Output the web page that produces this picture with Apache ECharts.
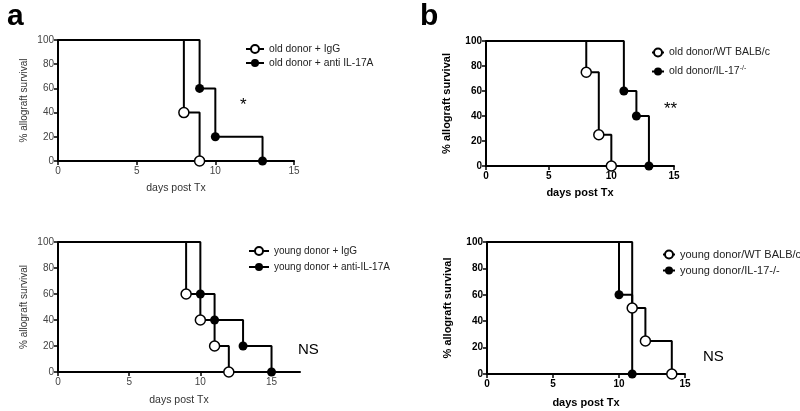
<!DOCTYPE html>
<html lang="en">
<head>
    <meta charset="UTF-8">
    <title>allograft survival</title>
    <script src="https://cdn.jsdelivr.net/npm/echarts@6/dist/echarts.min.js"></script>
    <style>
        body { margin: 0; background: #fff; }
        #main { width: 800px; height: 411px; }
    </style>
</head>
<body>
<div id="main"></div>

<script>
    // survival data: [day, % surviving], first point is the start of each curve
    var aOldIgG = [[0, 100], [8, 40], [9, 0]];
    var aOldAnti = [[0, 100], [9, 60], [10, 20], [13, 0]];
    var aYoungIgG = [[0, 100], [9, 60], [10, 40], [11, 20], [12, 0]];
    var aYoungAnti = [[0, 100], [10, 60], [11, 40], [13, 20], [15, 0]];
    var bOldWT = [[0, 100], [8, 75], [9, 25], [10, 0]];
    var bOldKO = [[0, 100], [11, 60], [12, 40], [13, 0]];
    var bYoungWT = [[0, 100], [11, 50], [12, 25], [14, 0]];
    var bYoungKO = [[0, 100], [10, 60], [11, 0]];

    var xTicks = [0, 5, 10, 15];
    var yTicks = [0, 20, 40, 60, 80, 100];

    var names = {
        aOldIgG: 'old donor + IgG',
        aOldAnti: 'old donor + anti IL-17A',
        aYoungIgG: 'young donor + IgG',
        aYoungAnti: 'young donor + anti-IL-17A',
        bOldWT: 'old donor/WT BALB/c',
        bOldKO: 'old donor/IL-17',
        bYoungWT: 'young donor/WT BALB/c',
        bYoungKO: 'young donor/IL-17-/-'
    };

    var myChart = echarts.init(document.getElementById('main'));

    // grids: a-top, a-bottom, b-top, b-bottom
    var grids = [
        {left: 58, right: 506, top: 40, bottom: 250},
        {left: 58, right: 500, top: 242, bottom: 39},
        {left: 486, right: 126, top: 41, bottom: 245},
        {left: 487, right: 115, top: 242, bottom: 37}
    ];
    var xMax = [15, 17, 15, 15];
    var bold = [false, false, true, true];
    var xGap = [22, 23, 21, 23];
    var yGap = [29, 29, 34, 34];

    function xAxis(i) {
        return {
            gridIndex: i, type: 'value', min: 0, max: xMax[i], interval: 5,
            name: 'days post Tx', nameLocation: 'middle', nameGap: xGap[i],
            nameTextStyle: {fontFamily: 'Liberation Sans', fontSize: bold[i] ? 11 : 10.5,
                fontWeight: bold[i] ? 'bold' : 'normal', color: bold[i] ? '#000' : '#333'},
            splitLine: {show: false},
            axisLine: {lineStyle: {color: '#000', width: 2}},
            axisTick: {length: 4, lineStyle: {color: '#000', width: 1.5}},
            axisLabel: {fontFamily: 'Liberation Sans', fontSize: 10, margin: 5,
                fontWeight: bold[i] ? 'bold' : 'normal', color: bold[i] ? '#000' : '#444',
                showMaxLabel: i === 1 ? false : null}
        };
    }

    function yAxis(i) {
        return {
            gridIndex: i, type: 'value', min: 0, max: 100, interval: 20,
            name: '% allograft survival', nameLocation: 'middle', nameGap: yGap[i],
            nameTextStyle: {fontFamily: 'Liberation Sans', fontSize: bold[i] ? 11 : 10,
                fontWeight: bold[i] ? 'bold' : 'normal', color: bold[i] ? '#000' : '#333'},
            splitLine: {show: false},
            axisLine: {lineStyle: {color: '#000', width: 2}},
            axisTick: {length: 4, lineStyle: {color: '#000', width: 1.5}},
            axisLabel: {fontFamily: 'Liberation Sans', fontSize: 10, margin: 4,
                fontWeight: bold[i] ? 'bold' : 'normal', color: bold[i] ? '#000' : '#444'}
        };
    }

    function curve(name, data, i, open) {
        return {
            name: name, type: 'line', step: 'end',
            xAxisIndex: i, yAxisIndex: i,
            data: data.map(function (p, k) {
                return k === 0 ? {value: p, symbol: 'none'} : {value: p};
            }),
            symbol: 'circle', symbolSize: open ? 10 : 9, showSymbol: true,
            color: '#000',
            lineStyle: {color: '#000', width: 2},
            itemStyle: open ? {color: '#fff', borderColor: '#000', borderWidth: 1.5}
                            : {color: '#000', borderColor: '#000', borderWidth: 0},
            z: open ? 3 : 2,
            animation: false
        };
    }

    function legend(left, top, gap, w, size, list) {
        return {
            left: left, top: top, orient: 'vertical', itemGap: gap,
            itemWidth: w, itemHeight: 10,
            data: list,
            textStyle: {fontFamily: 'Liberation Sans', fontSize: size, color: '#222',
                rich: {sup: {fontSize: 7, verticalAlign: 'top', padding: [0, 0, 6, 0], color: '#222'}}},
            formatter: function (n) {
                return n === names.bOldKO ? n + '{sup|-/-}' : n;
            }
        };
    }

    var txt = function (x, y, s, size, weight) {
        return {type: 'text', left: x, top: y,
            style: {text: s, fontFamily: 'Liberation Sans', fontSize: size, fontWeight: weight || 'normal', fill: '#000'}};
    };

    var option = {
        backgroundColor: '#fff',
        animation: false,
        grid: grids,
        xAxis: [0, 1, 2, 3].map(xAxis),
        yAxis: [0, 1, 2, 3].map(yAxis),
        legend: [
            legend(240, 39, 4, 18, 10.3, [names.aOldIgG, names.aOldAnti]),
            legend(243, 241, 6, 20, 10, [names.aYoungIgG, names.aYoungAnti]),
            legend(646, 42, 7, 12, 10.5, [names.bOldWT, names.bOldKO]),
            legend(657, 244, 5, 12, 11, [names.bYoungWT, names.bYoungKO])
        ],
        graphic: [
            txt(7, 2, 'a', 30, 'bold'),
            txt(420, 2, 'b', 30, 'bold'),
            txt(240, 97, '*', 17),
            txt(664, 101, '**', 17),
            txt(298, 342, 'NS', 15),
            txt(703, 349, 'NS', 15)
        ],
        series: [
            curve(names.aOldAnti, aOldAnti, 0, false),
            curve(names.aOldIgG, aOldIgG, 0, true),
            curve(names.aYoungAnti, aYoungAnti, 1, false),
            curve(names.aYoungIgG, aYoungIgG, 1, true),
            curve(names.bOldKO, bOldKO, 2, false),
            curve(names.bOldWT, bOldWT, 2, true),
            curve(names.bYoungKO, bYoungKO, 3, false),
            curve(names.bYoungWT, bYoungWT, 3, true)
        ]
    };

    myChart.setOption(option);
</script>
</body>
</html>
